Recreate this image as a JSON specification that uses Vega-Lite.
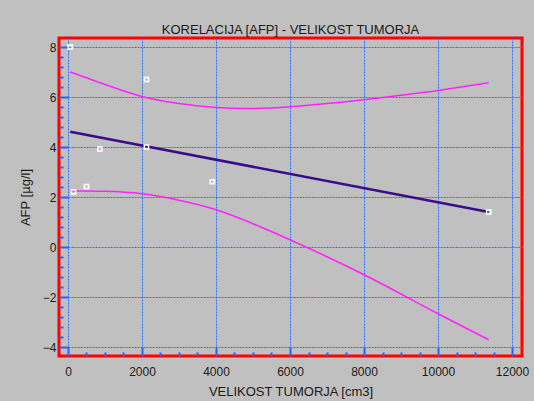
{
  "$schema": "https://vega.github.io/schema/vega-lite/v6.json",
  "width": 463,
  "height": 318,
  "autosize": "none",
  "padding": {"left": 59, "top": 38, "right": 12, "bottom": 45},
  "background": "#c0c0c0",
  "title": {"text": "KORELACIJA [AFP] - VELIKOST TUMORJA", "font": "Liberation Sans", "fontSize": 13, "fontWeight": "normal", "color": "#1a1a1a", "offset": 1, "anchor": "middle"},
  "config": {
    "view": {"stroke": "#ff0000", "strokeWidth": 3, "fill": "#c0c0c0"},
    "axis": {"labelFont": "Liberation Sans", "labelFontSize": 12, "labelColor": "#1a1a1a", "titleFont": "Liberation Sans", "titleFontSize": 13, "titleFontWeight": "normal", "titleColor": "#1a1a1a", "domain": false, "grid": true, "gridColor": "#2f72ff", "gridDash": [2, 1], "gridWidth": 1, "tickColor": "#2266ff", "tickWidth": 2}
  },
  "datasets": {
    "points": [
      {"x": 60, "y": 8.0},
      {"x": 150, "y": 2.2},
      {"x": 500, "y": 2.42},
      {"x": 860, "y": 3.92},
      {"x": 2120, "y": 4.0},
      {"x": 2120, "y": 6.7},
      {"x": 3900, "y": 2.61},
      {"x": 11370, "y": 1.4}
    ],
    "fit": [
      {"x": 60, "y": 4.61},
      {"x": 11370, "y": 1.4}
    ],
    "bands": [
      {"band": "upper", "x": 60, "y": 7.0},
      {"band": "upper", "x": 1000, "y": 6.5},
      {"band": "upper", "x": 2000, "y": 6.02},
      {"band": "upper", "x": 3000, "y": 5.74},
      {"band": "upper", "x": 4000, "y": 5.58},
      {"band": "upper", "x": 5000, "y": 5.54},
      {"band": "upper", "x": 6000, "y": 5.61},
      {"band": "upper", "x": 7000, "y": 5.74},
      {"band": "upper", "x": 8000, "y": 5.89},
      {"band": "upper", "x": 9000, "y": 6.07},
      {"band": "upper", "x": 10000, "y": 6.26},
      {"band": "upper", "x": 11370, "y": 6.57},
      {"band": "lower", "x": 60, "y": 2.24},
      {"band": "lower", "x": 1000, "y": 2.23},
      {"band": "lower", "x": 2000, "y": 2.13},
      {"band": "lower", "x": 3000, "y": 1.87},
      {"band": "lower", "x": 4000, "y": 1.49},
      {"band": "lower", "x": 5000, "y": 0.93},
      {"band": "lower", "x": 6000, "y": 0.29},
      {"band": "lower", "x": 7000, "y": -0.39},
      {"band": "lower", "x": 8000, "y": -1.11},
      {"band": "lower", "x": 9000, "y": -1.88},
      {"band": "lower", "x": 10000, "y": -2.67},
      {"band": "lower", "x": 11370, "y": -3.71}
    ]
  },
  "encoding": {
    "x": {
      "field": "x", "type": "quantitative",
      "scale": {"domain": [-243.243, 12270.27], "nice": false, "zero": false},
      "axis": {
        "title": "VELIKOST TUMORJA [cm3]",
        "values": [0, 500, 1000, 1500, 2000, 2500, 3000, 3500, 4000, 4500, 5000, 5500, 6000, 6500, 7000, 7500, 8000, 8500, 9000, 9500, 10000, 10500, 11000, 11500, 12000],
        "labelExpr": "datum.value % 2000 === 0 ? format(datum.value, 'd') : ''",
        "gridOpacity": {"condition": {"test": "datum.value % 2000 === 0", "value": 1}, "value": 0},
        "tickSize": {"condition": {"test": "datum.value % 2000 === 0", "value": -9}, "value": -4},
        "labelPadding": 19,
        "titlePadding": 8
      }
    },
    "y": {
      "field": "y", "type": "quantitative",
      "scale": {"domain": [-4.36, 8.36], "nice": false, "zero": false},
      "axis": {
        "title": "AFP [µg/l]",
        "values": [-4, -3.6, -3.2, -2.8, -2.4, -2, -1.6, -1.2, -0.8, -0.4, 0, 0.4, 0.8, 1.2, 1.6, 2, 2.4, 2.8, 3.2, 3.6, 4, 4.4, 4.8, 5.2, 5.6, 6, 6.4, 6.8, 7.2, 7.6, 8],
        "labelExpr": "abs(datum.value % 2) < 0.01 ? format(datum.value, 'd') : ''",
        "gridOpacity": {"condition": {"test": "abs(datum.value % 2) < 0.01", "value": 1}, "value": 0},
        "tickSize": {"condition": {"test": "abs(datum.value % 2) < 0.01", "value": -9}, "value": -4},
        "labelPadding": 12,
        "titlePadding": 10
      }
    }
  },
  "layer": [
    {"data": {"name": "bands"}, "mark": {"type": "line", "color": "#ff22ff", "strokeWidth": 1.5, "interpolate": "natural"}, "encoding": {"detail": {"field": "band"}}},
    {"data": {"name": "fit"}, "mark": {"type": "line", "color": "#3a0c88", "strokeWidth": 2.5}},
    {"data": {"name": "points"}, "mark": {"type": "point", "shape": "square", "size": 18, "filled": false, "stroke": "#ffffff", "strokeWidth": 1.5, "opacity": 1}}
  ]
}
